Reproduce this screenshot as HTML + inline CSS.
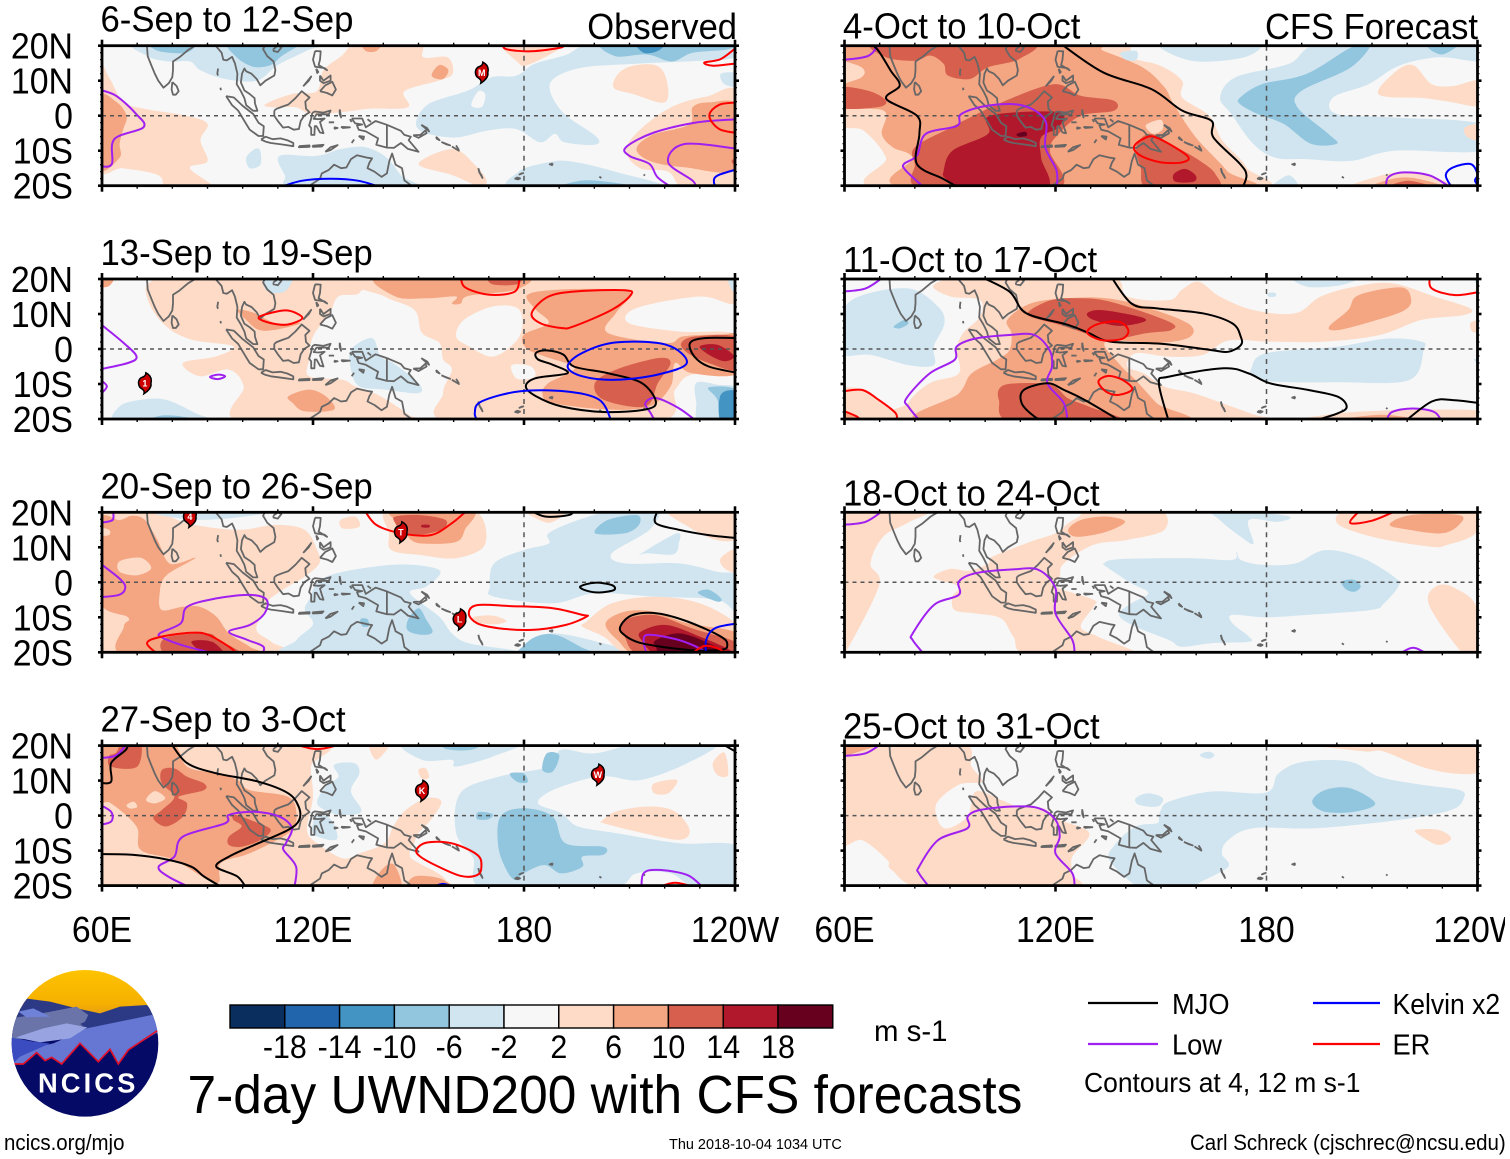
<!DOCTYPE html>
<html lang="en">
<head>
<meta charset="utf-8">
<title>7-day UWND200 with CFS forecasts</title>
<style>
html,body{margin:0;padding:0;background:#fff;}
svg{display:block;}
text{font-family:"Liberation Sans",Arial,sans-serif;fill:#000;}
</style>
</head>
<body>
<svg id="chart" xmlns="http://www.w3.org/2000/svg" width="1510" height="1159" viewBox="0 0 1510 1159">
  <rect x="0" y="0" width="1510" height="1159" fill="#fff"/>
  <g id="panels"></g>

  <g transform="translate(0,960) scale(0.3333)">
    <defs>
      <clipPath id="logoClip"><circle cx="255" cy="250" r="220"/></clipPath>
      <linearGradient id="skyGrad" x1="0" y1="0" x2="0" y2="1"><stop offset="0" stop-color="#ffc400"/><stop offset="0.7" stop-color="#f5b000"/><stop offset="1" stop-color="#e59a18"/></linearGradient>
    </defs>
    <g clip-path="url(#logoClip)">
      <rect x="30" y="25" width="450" height="150" fill="url(#skyGrad)"/>
      <rect x="30" y="170" width="450" height="310" fill="#050a66"/>
      <polygon points="30,170 75,115 150,125 230,145 300,160 360,140 440,135 480,170 480,220 30,240" fill="#2c3a86"/>
      <polygon points="30,175 100,165 230,140 265,165 250,195 200,225 30,240" fill="#6a74a8"/>
      <polygon points="55,155 100,145 150,170 80,172" fill="#6f82d8"/>
      <polygon points="240,192 300,165 440,135 470,165 330,195 270,207" fill="#2c3a86"/>
      <polygon points="30,315 70,270 160,250 260,205 480,160 480,212 385,270 355,312 330,268 295,305 240,250 185,312 155,292 135,302 110,278 70,312" fill="#6577d2"/>
      <polygon points="48,232 130,205 200,190 262,202 210,235 120,247" fill="#98a4e2"/>
      <polygon points="30,232 100,245 150,250 60,290 38,312 30,312" fill="#3a4cc0"/>
      <polyline points="42,312 70,312 110,278 135,302 155,292 185,312 240,250 295,305 330,268 355,312 385,270 472,212" fill="none" stroke="#e0102a" stroke-width="5"/>
    </g>
    <text x="260" y="398" text-anchor="middle" font-size="82" font-weight="bold" textLength="292" style="fill:#fff">NCICS</text>
  </g>

  <g id="colorbar"></g>
  <text transform="translate(874,1041) scale(0.98,1)" font-size="30">m s-1</text>
  <text transform="translate(187.5,1113) scale(0.953,1)" font-size="54">7-day UWND200 with CFS forecasts</text>

  <g>
    <line x1="1088" y1="1003" x2="1158" y2="1003" stroke="#000" stroke-width="2.2"/>
    <text transform="translate(1172,1014) scale(0.94,1)" font-size="29">MJO</text>
    <line x1="1313" y1="1003" x2="1380" y2="1003" stroke="#0000ff" stroke-width="2.2"/>
    <text transform="translate(1392.5,1014) scale(0.915,1)" font-size="29">Kelvin x2</text>
    <line x1="1088" y1="1044" x2="1158" y2="1044" stroke="#a020f0" stroke-width="2.2"/>
    <text transform="translate(1172,1054.5) scale(0.94,1)" font-size="29">Low</text>
    <line x1="1313" y1="1044" x2="1380" y2="1044" stroke="#ff0000" stroke-width="2.2"/>
    <text transform="translate(1392.5,1054.5) scale(0.94,1)" font-size="29">ER</text>
    <text transform="translate(1084,1092) scale(0.945,1)" font-size="28">Contours at 4, 12 m s-1</text>
  </g>

  <text transform="translate(4,1150) scale(0.93,1)" font-size="22">ncics.org/mjo</text>
  <text transform="translate(669,1149) scale(0.965,1)" font-size="15">Thu 2018-10-04 1034 UTC</text>
  <text transform="translate(1190,1150) scale(0.932,1)" font-size="22">Carl Schreck (cjschrec@ncsu.edu)</text>
  <rect x="1505" y="0" width="5" height="1159" fill="#fff"/>
</svg>

<script>
/* ---------- axis and colour scale data ---------- */
const xTickValues = [60, 120, 180, 240];
const xTickLabels = ['60E', '120E', '180', '120W'];
const yTickValues = [20, 10, 0, -10, -20];
const yTickLabels = ['20N', '10N', '0', '10S', '20S'];
const colorLevels = [-18, -14, -10, -6, -2, 2, 6, 10, 14, 18];
const colorBarLabels = ['-18', '-14', '-10', '-6', '-2', '2', '6', '10', '14', '18'];
const colorBarFill = ['#0a2f5f', '#2166ac', '#4393c3', '#92c5de', '#d1e5f0', '#f7f7f7', '#fddbc7', '#f4a582', '#d6604d', '#b2182b', '#67001f'];
const panelTitles = ['6-Sep to 12-Sep', '13-Sep to 19-Sep', '20-Sep to 26-Sep', '27-Sep to 3-Oct', '4-Oct to 10-Oct', '11-Oct to 17-Oct', '18-Oct to 24-Oct', '25-Oct to 31-Oct'];

/* ---------- coastlines, lon/lat pairs ---------- */
const coastlines = [
 [72.7,21,73,17,74,14.5,75,12,76,10,77.5,8,79,9.3,80,11,80.2,13,80.2,15.5,82,16.7,84.5,18.8,86.5,20,88,21.5],
 [80,9.6,81.2,8.5,81.8,7,81,6,80.2,6,79.8,7.5,80,9.6],
 [91.5,21.5,92.3,20,94,18,94.5,16,95.5,15.8,97,16.8,97.8,15,98.5,12,98.3,9,99.5,7,100.5,5,101,3,103,1.4,104.2,1.4,103.5,3.5,103.4,5,102,6.2,100.5,7.2,99.5,9.5,99.8,12,100.5,13.5,101,12.7,102.5,12,104,10.5,105,8.7,106.5,10,109,11.5,109.3,13,108.8,15.5,107,17,105.8,19,106.5,20.5,108,21.5],
 [108.7,19,110,20,111,19.5,110,18.2,108.8,18.5,108.7,19],
 [110,21.5,110.4,20.2,111,21.5],
 [95.3,5.6,97.5,5.2,100,2.8,103,0.5,104.5,-2,106,-3,105.8,-5.8,104.5,-5.8,102,-4,100.5,-1.5,98.7,1.5,97,3,95.3,5.6],
 [105.2,-6.8,106.5,-6,108.5,-6.7,110.8,-6.5,112.7,-7,114.4,-7.8,114.4,-8.7,111,-8.2,108,-7.8,106.5,-7.4,105.2,-6.8],
 [109,1.5,109.7,2,111.3,2.6,113,3.2,115,5,116.8,7,119,5.2,117.8,4,118,2,119,1,117.5,0,116.5,-1.5,116,-3.8,114.5,-4,113,-3.2,111.5,-3.4,110,-1.5,109,0,109,1.5],
 [119.8,0.8,120.5,1.2,123,0.9,125,1.5,124.5,0.4,121,0.4,120.2,-0.9,121.5,-1,123.3,-0.8,122,-1.8,122.5,-3.5,123,-5,122,-4.8,121,-3,120.5,-3,120.4,-5.5,119.5,-5.5,119.5,-3.5,118.9,-2.8,119.5,-0.8,119.8,0.8],
 [120.6,18.5,122.2,18.4,122,16,121.6,14.5,124,13,123.3,13.6,120.6,14,120,16,120.6,18.5],
 [122,7,123.5,8.7,125.5,9.7,126.5,7.5,125.5,5.8,124,6.5,122,7],
 [117.2,8.4,119.5,11.2,118.8,10,117.2,8.4],
 [122,11.5,123,10,125,11.5,125,10,123,9.3,122,10,122,11.5],
 [120.9,13.4,121.5,12.5,121.2,12.2,120.9,13.4],
 [131,-0.8,134,-0.8,135,-3.3,137.8,-1.5,141,-2.6,145,-4.3,146,-5.5,147.8,-6,147.2,-7,150,-10.3,147,-9.5,145,-7.8,143,-9.2,141,-9.1,138,-8.3,138.5,-6.5,135,-4.5,133,-4,132.5,-2.8,134,-2.5,132,-2.2,131,-0.8],
 [141,-2.6,141,-9.1],
 [148.5,-5.6,150.5,-5.5,152,-4.2,152.3,-5,150,-6.3,148.5,-5.6],
 [150.8,-2.6,153,-4.5,152.5,-3.6,150.8,-2.6],
 [113.5,-21.5,116,-20.5,119,-20,122,-18,122.5,-16.5,124.5,-15.5,126,-14,128,-15,129.5,-14.8,130.8,-12.4,132.5,-11.3,135.5,-12,136.8,-12.2,136,-13.5,135.5,-15,137.5,-16,139.5,-17.5,141,-16.5,141.7,-13,142.5,-10.8,143.5,-14,145.3,-15,146,-18.5,148,-20,149,-21.5],
 [123.5,-10.3,125,-9,127,-8.4,125,-9.8,123.5,-10.3],
 [116,-8.7,119,-8.5,119,-8.9,116,-9,116,-8.7],
 [119.8,-8.6,123,-8.3,122.5,-8.8,120,-8.9,119.8,-8.6],
 [127.6,1.8,128,-0.5,127.6,0.5,127.6,1.8],
 [128,-3.2,130.5,-3.3,128.5,-3.5,128,-3.2],
 [126,-3.3,127,-3.5,126.2,-3.7,126,-3.3],
 [124.5,-1.9,126,-1.9],
 [135.5,-1,136.5,-1.8],
 [130.5,-1,131,-1.8],
 [133,-5.8,134.5,-6,134.3,-6.8,133,-5.8],
 [131,-7.8,131.7,-6.8],
 [155,-6,156,-7,155.2,-6.6,155,-6],
 [156.5,-7.5,159,-8.5,158,-8.2,156.5,-7.5],
 [159.5,-8.8,161.5,-10,160.5,-9.4,159.5,-8.8],
 [160.7,-8.5,161.5,-9.8],
 [167,-15,167.3,-16.2,167.9,-17,168.2,-17.8,167.5,-16.5,167,-15],
 [178,-17.6,178.9,-17.9,178.3,-18.2,177.5,-18,178,-17.6],
 [179.5,-16.4,178.7,-16.8,180,-16.3],
 [188.2,-13.6,187.3,-13.9,188,-14.1,188.2,-13.6],
 [93,13.5,92.8,12,93,11.5],
 [93.8,7.3,93.7,8],
 [201.4,-17.4,202,-17.8],
 [214,-16.8,214.4,-17.1]
];

/* ---------- Panel 1: 6-Sep to 12-Sep, observed ---------- */
const p1Shading = [
 {value:-4, pts:[72,21,73,17,79,15.5,85,15.5,88,13,95,10.5,104,10,110,14.5,118,18.5,121,21]},
 {value:-8, pts:[74,21,76,18.5,84,18,86,21]},
 {value:-8, pts:[97,21,98,17,103,14,108,14.5,111,17,116,20,118,21]},
 {value:-4, pts:[149.3,-2.4,152.8,3.3,163.9,7.1,170.8,11,177.7,11.4,183,14.8,191.5,17.2,202.6,21,241,21,240,16.7,230,15.7,211,14.8,197,13.8,189,11,187.4,7.1,191.5,0.5,200.6,-6,200,-8.3,191.5,-7.6,188.8,-5.2,184.6,-7.6,177.7,-3.8,169.4,-4.3,161,-6.2,152.8,-5.2]},
 {value:0, pts:[165,3,167,7,169,6,168,2.5]},
 {value:-8, pts:[204,21,206,17,215,17.5,222,15.5,228,18,238,19,240,21]},
 {value:-12, pts:[212,21,214,18,218,18.5,220,21]},
 {value:-4, pts:[236,12,241,12,241,8.5,237,9]},
 {value:-4, pts:[178,-21,178.5,-16,186,-13.5,193,-13,206,-16,220,-21]},
 {value:-8, pts:[190,-21,197,-18.5,208,-19.5,214,-21]},
 {value:-4, pts:[101,-12,103.5,-9.5,105,-10,105,-14,102,-15]},
 {value:-4, pts:[110.5,-11.5,121,-11.5,128,-9.5,135,-9,141,-12,145,-17,149,-21,115,-21,112,-17]},
 {value:4, pts:[106.4,3.3,114,6.2,121,7,123,13,128,17,133.5,21,150,21,151.4,16.7,158.3,16.7,159.7,12,155.6,10,146,7,147,2.4,136,2,128,1,119.5,0.5,115,2.4,108.5,2.4]},
 {value:8, pts:[153.8,12,156,14.5,158.5,13,157,10.5,154.5,10.8]},
 {value:8, pts:[134,21,135,18.5,138,18.5,139.5,21]},
 {value:4, pts:[174,21,178,15.5,181,14.5,190,19,191,21]},
 {value:4, pts:[59,14,62,11,66,4,72,2,84,0,90,-2.3,88,-7,90,-13,85,-15,92,-21,79,-21,76,-17,66,-15,59,-14.5]},
 {value:8, pts:[59,5,64,4,67,0,66,-4,65,-8,65,-12,59,-15]},
 {value:4, pts:[209,-10,213,-4,222,2.5,232,5.5,241,6,241,-21,226,-21,221,-16,213,-15]},
 {value:8, pts:[212,-9.5,216.5,-5.5,227,-2.5,228,2.5,233,3.8,241,2.5,241,-15,225.5,-14.7,216,-13]},
 {value:12, pts:[239,-13,241,-12,241,-15]},
 {value:4, pts:[206.8,12,211,14.3,217.8,14.3,220.6,10,220,3.8,211,6.2,205.5,8]},
 {value:4, pts:[150,-13.8,159.7,-9.5,166,-14,169.4,-18.6,167,-20,159.7,-17]}
];
const p1Mjo = [];
const p1Low = [
 [59,7.5,64,5.7,69.7,0.5,71.8,-3.3,63.5,-6.7,62.8,-13.8,59.5,-14.5],
 [241,-1,229.4,-1.9,217,-4.8,209,-9,210,-11.5,215.7,-13.8,218,-17.6,222.8,-21],
 [241,-9.5,225.5,-8.1,221,-13.3,228,-18.6,228.8,-21]
];
const p1Kelvin = [
 [109,-21,116.7,-18.6,125,-18,133,-18.6,141,-21],
 [241,-15.2,235,-17.1,234,-19,235,-21]
];
const p1Er = [
 [174,20.5,175,19,182,18.4,190.5,19.5,191,20.5],
 [241,20,236,16.2,231.3,15.2,233.8,14.3,241,15],
 [241,3.8,235.5,3.1,232.7,0,235.5,-3.8,241,-5]
];
const p1Storms = [{name:'M', lon:168, lat:12.3}];

/* ---------- Panel 2: 13-Sep to 19-Sep ---------- */
const p2Shading = [
 {value:4, pts:[73.4,18.9,84.2,21,130.8,21,133.2,16,127.2,15,124.8,10.3,120,3.6,118.9,-3,118.9,-7.8,128.4,-8.8,132,-10.7,139.2,-13.5,147.6,-19,150,-21,99.7,-21,100.3,-10.7,96,-5.9,87.8,-7.8,83,-4,92.5,-2.1,97.3,0.8,85.4,2.7,78.2,6.5,73.4,13.1]},
 {value:4, pts:[133.2,21,241,21,240,13,230,15,212,11.7,209.8,7.4,224,5,240.5,4,240.5,-6.4,227.7,-7.3,223,-11.6,217,-21,159.5,-21,157,-12.6,159.5,-5.9,157,-3,156,1.7,151,4.6,148.8,11.2,140.4,15]},
 {value:0, pts:[160.7,3.6,163,8.4,171.5,12.2,178.7,11.2,178.7,3.6,171.5,-2.1,164.3,0.8]},
 {value:0, pts:[176.5,-4.6,182,-5,183,-8,178,-8.5]},
 {value:8, pts:[139.2,21,179,21,177.8,17,164.3,15.2,162,13,159.5,13,160.7,15,152.3,14.5,143.4,15]},
 {value:12, pts:[170.3,21,171,18.5,178,18.5,179,21]},
 {value:8, pts:[181,15.5,190.6,17,206.2,17,210.4,15.5,206.2,10.3,203.8,4.6,220.5,1.7,225.3,3.6,236,4.1,241,3.6,241,-6.9,227.7,-6.9,223,-4,221.7,-10.7,215.7,-16.4,203.8,-17.3,188.2,-15.4,185.2,-12.6,187,-9.7,191.8,-7.3,194.2,-5,185.8,-2.1,180.5,0.3,180,4.1,187,7.4,183.4,11.2]},
 {value:12, pts:[200.2,-9.7,206.2,-5.9,218.1,-2.6,221.7,-4,218.1,-9.7,214.5,-16.4,202.6,-14.5]},
 {value:12, pts:[224.7,1.7,229,3.6,241,3.1,241,-5.9,232.5,-4,226.5,-1.1]},
 {value:16, pts:[230,0.8,235,1.2,239.7,-2,237,-3.5,232.5,-1.6]},
 {value:8, pts:[98.5,11.2,103.3,10.3,109.3,7.4,116.5,7.4,109.3,5.5,104.5,5.5,100.9,8.4]},
 {value:8, pts:[113,-13.5,118.9,-11.6,123.6,-13.5,126,-17.3,117.6,-17.8,114.2,-15.4]},
 {value:8, pts:[59,21,63.5,21,62,18,59,18]},
 {value:-4, pts:[229,-9.7,235,-10.2,241,-11.6,241,-21,230,-21,229,-15.4]},
 {value:-8, pts:[232.5,-11,241,-12,241,-21,236,-21,235,-14.5]},
 {value:-12, pts:[236,-13,241,-12.6,241,-21,236,-21]},
 {value:-4, pts:[130.8,-0.2,136.8,3.1,139.2,-2.1,142.8,-4,150,-9.7,150,-12.6,140.4,-11.6,133.2,-10.7,130.8,-5.9]},
 {value:-4, pts:[106,21,107,16.5,112,16.5,114,21]},
 {value:-4, pts:[65,-16.4,71,-14.5,78.2,-14.5,86.5,-18.3,91,-21,65,-21]},
 {value:-8, pts:[73,-21,77,-19,84,-19.5,87,-21]},
 {value:-4, pts:[238,21,241,21,241,16,239,17]}
];
const p2Mjo = [
 [183.4,-1.1,186.4,-0.4,191.2,-1.6,194.2,-5,203.8,-6.9,213.4,-9.7,217.5,-15,214.5,-17.3,202.6,-18,190.6,-16.4,183.4,-13.5,180.5,-10.7,183.4,-8.3,192.4,-6.9,188.2,-4.5,184,-3,183.4,-1.1],
 [241,3.1,231.3,3.1,227.2,1.7,228.4,-2.1,232.5,-5,241,-6.9]
];
const p2Low = [
 [60,6.8,66.2,1.7,69.8,-2.1,67.4,-4,59,-5.9],
 [59.5,-8.8,61.4,-10.7,59.5,-13],
 [90.7,-8,93,-7.3,95,-7.8,93,-8.6,90.7,-8],
 [229.5,-21,224,-16.9,217.5,-14,214.5,-15.5,216,-18.3,217.5,-21]
];
const p2Kelvin = [
 [192.4,-5,196.6,-1.1,206.2,1.9,220.5,1.2,226.3,-4,218,-7.3,206.2,-8.8,196.6,-7.8,192.4,-5],
 [167,-21,166,-18.3,167.9,-15,178.7,-12.1,191.8,-12.1,201.4,-14.5,205,-21]
];
const p2Er = [
 [162,21,163.3,17.6,170.3,15.5,177.5,16.5,178.7,21],
 [182.2,10.3,187,15,195.4,16.5,208.6,16.8,210.4,15.5,205,11.2,194.2,6.5,190.6,6,184.6,7.4,182.2,10.3],
 [104.5,8.9,108,10.3,112.9,11,117,8.9,112.9,7,108,7.4,104.5,8.9]
];
const p2Storms = [{name:'1', lon:72.2, lat:-9.8}];

/* ---------- Panel 3: 20-Sep to 26-Sep ---------- */
const p3Shading = [
 {value:4, pts:[58,21,73.4,21,84.2,16.9,98.5,15,109.3,16.4,117.6,15,121.2,9.2,121.8,5.4,117.6,1.6,112.9,-1.2,107.5,-5,106.3,-7.9,103.9,-13.6,108.1,-17,111.1,-21,58,-21]},
 {value:-4, pts:[73,21,84,18,98,18.5,110,21]},
 {value:8, pts:[59,17.5,65,17.8,68.6,19,72.2,17.8,75.8,12,79.4,5.3,86.6,7,78.2,1.9,76.4,-3.1,77,-7.9,83,-7,87.8,-7,92.5,-9.8,96.1,-14.6,102,-18.4,104.5,-21,66.8,-21,66.2,-12.7,67.4,-10,59,-5]},
 {value:4, pts:[65,6,71,7,74,4,70,2,65,3]},
 {value:4, pts:[59,15.5,62,15,62,13.5,59,13.5]},
 {value:12, pts:[77.8,-16,89.7,-14.6,93.3,-16.5,99.3,-21,79.4,-21]},
 {value:16, pts:[85.4,-17,91.3,-17,95,-21,90,-21]},
 {value:4, pts:[141.6,14,141.6,21,165,21,169,11,160.8,6.9,150.5,7.8,142.3,9.2]},
 {value:4, pts:[127.8,17.8,132,18.8,133.2,15.9,128.4,15.4]},
 {value:8, pts:[142.3,21,165,21,163.2,15,160.8,11.6,152.3,11,148,12,145.6,15.9]},
 {value:12, pts:[143.4,18.8,150.5,19.2,157.7,17.8,156.5,15,149.3,13.5,145.1,15,143.4,16.9]},
 {value:16, pts:[151,16.4,153,16.4,153,15.7,151,15.7]},
 {value:4, pts:[180,21,192,21,187,17]},
 {value:-4, pts:[170.3,-1.2,171.5,5.4,179.9,9.2,187,11.1,187,14,195.4,17.8,207.4,21,218.1,21,215.7,15,205,8.3,208.6,5.4,224.1,5.4,234.9,3,241,1.6,241,-8.9,234.9,-5,216.9,-4.1,200.2,-3.1,188.2,-6,171.5,-4.1]},
 {value:-4, pts:[213,8,223.5,14,224,11,222.5,8,215,8.3]},
 {value:4, pts:[221,21,241,21,241,13,235,12,226.5,16]},
 {value:4, pts:[236,7,241,9.6,241,3,237,4]},
 {value:-8, pts:[200.2,14,203.8,17.8,212.1,19.2,212.7,16.4,208.6,14]},
 {value:-8, pts:[229.5,-3.1,232.5,-2.1,236,-4.5,235,-5.5]},
 {value:-4, pts:[118.9,-5,123.6,1.6,142.8,5,155.9,3.5,152.3,-1.2,147.6,-3.1,155.9,-9.8,159.5,-14.6,164.3,-17.4,176.3,-19.3,180,-21,115,-21,115.3,-16.5,120,-12,117.7,-8]},
 {value:-4, pts:[180,-21,182.6,-16.5,188.2,-14.6,199,-16.5,212,-21]},
 {value:-8, pts:[179,-19,183.4,-15.5,189,-15,196,-18.4,200,-21,179,-21]},
 {value:-8, pts:[147,-10.8,150,-7.4,152.3,-10.8,154,-14.2,151,-15,147,-13.8]},
 {value:-8, pts:[133.5,-10.5,135.5,-10.5,135.8,-12.5,134,-12.5]},
 {value:4, pts:[197.8,-11.2,205,-6,216.9,-4.1,230,-6,241,-12.7,241,-21,212,-21,202.6,-15.5,196.6,-12.7]},
 {value:4, pts:[165.5,-10,171,-9.5,175,-11,172,-12,167,-11.5]},
 {value:8, pts:[203.2,-11.7,208.6,-8.4,216.9,-8.4,226.5,-11.7,241,-14.6,241,-21,214,-21,206.6,-16.5]},
 {value:12, pts:[208,-11.2,216.9,-9.3,227.7,-13.1,241,-17.4,241,-21,214.5,-21,208.6,-15.5]},
 {value:16, pts:[213.4,-14,220.5,-12.2,230,-15.5,238.5,-19.3,239,-21,219.3,-21,213.4,-16.5]},
 {value:20, pts:[217.5,-16.5,224.1,-14.6,232.5,-17.4,237.3,-21,220.5,-21,217.5,-18.4]}
];
const p3Mjo = [
 [181,21,186,18.8,193,19.3,194,21],
 [218,20.5,217.5,16.9,224.1,15,232.5,13.5,241,12.6],
 [196,-1.2,200.2,-0.1,205,-0.8,205.6,-2.2,201.4,-2.9,197.8,-2.4,196,-1.2],
 [207.6,-12.2,211,-9.3,218.1,-8.9,226.5,-11.2,236,-15.5,237.8,-17.9,236,-19.3,226.5,-19.3,213.4,-17.4,208,-14.6,207.6,-12.2]
];
const p3Low = [
 [60,5,65.4,0.7,66.6,-1.7,64.8,-3.6,59,-4.3],
 [59,17,63,17.8,63,21],
 [95,-21,84.2,-18.4,77.6,-16,76.4,-14.6,82.4,-11.7,84.2,-7,92.5,-4.6,102,-3.6,106.8,-5,106.2,-8.9,102,-12.2,96.1,-14.1,101.5,-16.5,105.9,-18.4,105.4,-21],
 [215,-21,214,-16.5,215.7,-15,224.1,-16.5,230.7,-19.3,231.5,-21]
];
const p3Kelvin = [
 [241,-11.7,234.3,-13.1,231.8,-16.5,231.8,-21]
];
const p3Er = [
 [134.4,21,138,16.4,145.1,14,153.5,13.5,159.5,16.9,164.3,21],
 [164.3,-8.9,166.7,-6.5,176.3,-6.8,188.2,-7.4,196.6,-9.3,197.8,-9.8,191.8,-12.2,182.2,-13.6,172.7,-13.1,166.7,-11.7,164.3,-8.9],
 [76.4,-21,72.8,-17.4,77,-15.5,85.4,-14.4,90.2,-15,96.1,-18.4,99.1,-21],
 [227,-21,231.3,-18.2,236,-19.3,237,-21]
];
const p3Storms = [{name:'4', lon:85, lat:18.7}, {name:'T', lon:145, lat:14.3}, {name:'L', lon:161.7, lat:-10.6}];

/* ---------- Panel 4: 27-Sep to 3-Oct ---------- */
const p4Shading = [
 {value:-4, pts:[160.7,-5,161.9,6.4,172.7,11.1,187,14,190.6,18.8,200.2,17.8,214.5,21,234.9,21,226.5,15,213.4,10.2,205,11.1,200.2,11.1,188.2,7.3,184,3.5,190.6,0.7,195.4,-3.1,206.2,-5,224.1,-7.9,241,-8.9,241,-21,229,-21,221.7,-16.5,212,-16.5,203.8,-21,169.1,-21,165.5,-12]},
 {value:-4, pts:[146.4,21,178,21,171.5,17,160.7,14,159.5,15.9,151.1,15.9]},
 {value:-8, pts:[157,21,168,21,165,18.8,158,19]},
 {value:-4, pts:[126,14.5,131.7,15,133.2,12.1,130.8,7,133.8,1.6,130.8,0.2,125.4,0.7,121.2,3.5,123.6,8.3,127.2,11.1]},
 {value:-4, pts:[121,0,125,-1,127,-6,125,-7,120,-5]},
 {value:-8, pts:[173.3,-0.3,179.9,2.1,188.2,-0.3,191.8,-7.9,202.6,-8.9,202.6,-11.2,196.6,-11.7,196.6,-14.6,190.6,-16.5,185.8,-14.1,179.9,-16.5,177.5,-18.4,175,-15.5,172.7,-8.9]},
 {value:-8, pts:[167,1,171,0.5,170,-1,166.7,-1]},
 {value:-8, pts:[186.5,17.8,190,17.3,188.2,12.6,185.2,13.1]},
 {value:-8, pts:[176,12,180,12,181,9.5,178,9.7]},
 {value:4, pts:[202,-1.7,206.2,1.2,215.7,2.6,222.9,1.2,227.1,-4.1,224.1,-6.9,212.1,-4.6,202.6,-2.2]},
 {value:4, pts:[217,9.2,223.5,10.2,221.1,6.4,217,6.4]},
 {value:4, pts:[233.7,15,237,18,238,11.6,235,11.6]},
 {value:4, pts:[136,21,142,21,138,16]},
 {value:4, pts:[150,13,152,13.5,153,11,151,10.5]},
 {value:4, pts:[58,21,121.2,21,119.4,14,120,5.4,118.3,-4.1,121.2,-7.9,128.4,-12.2,133.2,-10.8,140.4,-7.9,142.8,-3.1,146.4,1.6,152.3,5,156.5,4,153.5,-1.2,150,-5,148.8,-7.9,147.6,-11.7,152.3,-21,58,-21]},
 {value:8, pts:[59,16.9,63.8,21,79.4,21,84.2,14,92.5,12.1,98.5,10.2,102,7.3,112.9,5.4,115.3,0.7,114,-4.1,108,-7.9,100.9,-11.2,93.7,-13.6,92.5,-19.3,80.6,-12.7,71,-9.8,69.8,-3.1,62.6,3.5,59,4.5]},
 {value:8, pts:[137,-21,139.5,-15.5,143,-14,145,-21]},
 {value:8, pts:[148.8,-17.4,156,-17.9,159.5,-21,147.6,-21]},
 {value:4, pts:[72.5,4.5,75,7,78,5,75,3.5]},
 {value:4, pts:[67,3,69,4,70,2.5,68,2]},
 {value:12, pts:[62.5,14,62,17,64,18,66,21,71,21,70,14]},
 {value:12, pts:[77,13,80.6,13.5,84.2,11.1,89,9.2,89,7.3,81.8,5.4,84.2,3.5,83,-0.3,78.2,-3.1,74.6,-0.8,77,1.6,80.6,5.4,77,9.2]},
 {value:12, pts:[97.9,0.2,104.5,-2.2,108,-4.1,105,-7,99.7,-8.9,96.1,-8.4,96.1,-6,99.7,-3.1,97.3,-1.2]}
];
const p4Mjo = [
 [79.4,21,84.2,15,92.5,12.1,104.5,9.7,112.9,6.4,115.9,2.6,116.1,-1.2,112.9,-4.1,103.3,-8.4,96.1,-11.7,92.5,-14.6,98.5,-17.4,101.2,-21],
 [59,-11,68.6,-11.2,78.2,-12.5,85.4,-14.6,89,-17.4,95,-21],
 [59,9.4,62.6,9.7,62.6,15,66.8,18.8,67.4,21],
 [235.5,21,241,17.8]
];
const p4Low = [
 [67.4,21,64,17.2,59,16.4],
 [59,3.3,62.6,1.1,62.6,-1.7,59,-2.7],
 [86,-21,78.8,-17.4,76.1,-14.6,80.6,-11.7,83,-6,95,-2.2,96.1,0.2,103.3,1.1,110.5,-0.3,114,-3.6,112.3,-7.9,111.6,-9.8,115.2,-14.6,114.6,-21],
 [213.4,-21,214,-16.5,218.1,-15.5,226.5,-17,231.3,-21]
];
const p4Kelvin = [
 [153,-21,157,-19.5,161,-21]
];
const p4Er = [
 [113,21,121.2,19,130,21],
 [149.4,-9.8,152.3,-7.7,159.5,-7.9,166.7,-11.2,167.9,-14.6,166.7,-17,161.9,-17.2,154.7,-14.1,150.5,-11.7,149.4,-9.8],
 [217,-21,223,-19.2,230,-21]
];
const p4Storms = [{name:'K', lon:151, lat:7.1}, {name:'W', lon:201, lat:11.7}];

/* ---------- Panel 5: 4-Oct to 10-Oct, CFS forecast ---------- */
const p5Shading = [
 {value:4, pts:[58,21.4,133.5,21.4,141,16.7,149.8,14.3,156,10,156,5.2,163.7,0,167.4,-7,174.3,-14.8,173.7,-21.4,73,-21.4,71.8,-12,65.5,-4.3,58,-1]},
 {value:8, pts:[58,21,58,16.7,64.9,13.8,64.9,11,58,8,58,2.4,71.2,1.4,70.6,-5.2,73.7,-9,79.4,-12,79.4,-21,171.2,-21,168.7,-15.7,159.9,-6.2,153.6,3.3,151,8.1,144.8,13.8,133.5,18.6,128,21]},
 {value:12, pts:[70,21,71.8,16.7,80,15.7,84.4,17.2,88.2,14.8,89.4,11.5,95.7,10.5,100.8,13.8,109.7,16.2,112,21]},
 {value:12, pts:[80,-9,89.4,-3.8,95.7,-0.5,105.8,4.3,119.6,9,127.2,5.7,136.6,4.3,136.6,1.4,127.2,0,120.9,-5.2,118.4,-10,120.3,-21,82.5,-21,80,-13.8]},
 {value:12, pts:[142.9,-9,146.7,-5.2,153.6,-8.6,161.1,-12.9,165.5,-16.7,165.5,-21,146.7,-21,144.2,-14.8]},
 {value:12, pts:[58,8,66.8,7.1,71.8,4.3,69.3,2.4,58,2.4]},
 {value:16, pts:[88.2,-15.7,90.7,-10,100.8,-5.2,101.4,0,120.9,1,120.9,-3.3,115.9,-6.2,115.9,-12,117.1,-21,94.8,-21,88.8,-18]},
 {value:16, pts:[153.6,-16.7,156.8,-15.2,159.9,-17.1,159.2,-18.9,154.2,-18.9]},
 {value:20, pts:[109,-5.2,111.4,-4.6,111.8,-5.7,109.6,-6]},
 {value:4, pts:[146,-2.4,150,-1.2,150.5,-3.8,148,-5.2,146,-3.8]},
 {value:-4, pts:[166.8,5.2,171.2,11,186.3,14.8,197.6,21,241,21,241,15.7,229,16.7,217.7,14.3,209,9,198.9,5.2,200,0.5,216.5,-0.5,241,-2.4,241,-10,216.5,-10,204,-12.9,191.3,-12.4,182.5,-12,176.2,-8,170,0.5]},
 {value:-8, pts:[172.5,5.2,178.7,9,191.3,11.9,204,19.5,210,21,204,13.8,190,7.1,188.8,2.4,197.6,-5.2,200,-8,192.6,-8,185,-2.4,177.5,0.5,172.5,3.3]},
 {value:-8, pts:[226,20,235,21,230,17.5]},
 {value:-4, pts:[138.5,18,143,18.5,143,16,140,16]},
 {value:-4, pts:[149.8,21,158.6,15.7,173.7,16.7,176.9,21]},
 {value:-4, pts:[181,-21,186.3,-17,189,-21]},
 {value:4, pts:[212,6,216,12,221.6,14.5,227,9,233,8.5,241,10,241,3,232,4,225,5]},
 {value:4, pts:[236.5,-3.3,241,-2.5,241,-7,237,-6]},
 {value:4, pts:[204,-21,212.8,-17,221.5,-16,229,-18,232.8,-21]},
 {value:8, pts:[209.6,-21,216,-18,223,-18,231,-21]},
 {value:12, pts:[214,-21,220.3,-18.6,228,-21]}
];
const p5Mjo = [
 [66.2,21,69.3,19,73.1,12.9,75.7,8.6,71.9,4.8,80.6,0,81.3,-5.2,80.6,-13.8,88.2,-18.1,93.2,-21],
 [120.9,21,133.5,12.4,147.3,7.6,156.1,1.4,164.3,-1.4,164.9,-6.2,172.5,-13.8,174.3,-17.1,173,-21]
];
const p5Low = [
 [59,15.9,66.8,17.1,70,21],
 [83.1,-21,77.5,-15.7,76.9,-13.8,80.6,-11.4,83.1,-5.2,92,-2.9,93.2,0.5,100.8,2.9,110.8,2.9,117.1,-1.4,117.1,-9,120.3,-15.7,120.3,-21],
 [214,-21,214.6,-17.6,219,-16.2,226.5,-17.1,233,-21]
];
const p5Kelvin = [
 [233,-21,231,-17.1,233,-14.8,238,-13.8,240,-16.7,239.3,-18.6,241,-21]
];
const p5Er = [
 [142.3,-9,144.8,-6.7,148.6,-6.2,157.4,-11.4,156.1,-13.3,149.8,-13.3,144.2,-11.4,142.3,-9]
];
const p5Storms = [];

/* ---------- Panel 6: 11-Oct to 17-Oct ---------- */
const p6Shading = [
 {value:-4, pts:[59,9.2,63.8,14.9,78.2,17.3,86.6,12.1,88.4,7.3,85.4,0.7,85.4,-4.6,78.2,-4.6,67.4,-1.7,59,-1.2]},
 {value:-8, pts:[74,6.4,77,8.3,78.2,7.3,75.8,5.9]},
 {value:4, pts:[85.4,18.3,97.3,21,134.4,21,140.4,15,152.3,14,155.9,16.9,160.7,19.2,166.7,15,176.3,11.1,188.2,10.2,195.4,15,205,17.8,215.7,18.8,227.7,15,237.9,11.6,236.1,9.7,224.1,8.3,212.2,4,196.6,2.1,181,2.1,169.1,2.4,161.9,-1.7,152.3,-2.2,142.8,-1.2,140.4,-5,145.2,-7,151.1,-10.8,159.5,-12.7,170.3,-16.5,178.7,-19.3,191.8,-21,77.6,-21,78,-15.5,84.2,-9.8,92.5,-7,91.9,-0.3,93.7,4.5,98.5,9.2,98.5,14,90.1,15]},
 {value:4, pts:[190,-21,205,-18,240,-17.5,241,-21]},
 {value:8, pts:[200,-21,212,-18.8,225,-20,241,-20,241,-21]},
 {value:4, pts:[238,7.5,241,8,241,5,238.5,5]},
 {value:4, pts:[59,-12.2,65,-11.7,75,-18.4,76,-21,59,-21]},
 {value:8, pts:[59,-17.4,66,-21,59,-21]},
 {value:8, pts:[82.4,-21,92.5,-12.7,96.1,-7,103.3,-3.1,106.9,-0.3,107.5,4.5,106.3,8.3,112.9,13,123.6,14.5,134.4,14.5,145.2,12.1,157.7,7.3,158.3,3.5,150,1.8,134.4,2.1,138,-4.1,142.8,-8.9,148.8,-15.5,154.7,-21]},
 {value:8, pts:[197.8,6.4,203.2,11.1,206.2,15.4,218.1,17.6,221.1,14.5,219.3,11.1,209.7,7.8,200.2,5.4]},
 {value:12, pts:[112.9,11.1,118.9,14,126,14.5,135.6,13.5,152.3,7.8,152.9,5.4,145.7,4.5,134.4,2.4,128.4,4.5,121.2,6.9,112.9,9.2]},
 {value:16, pts:[129,10.2,133.2,11.1,144,9.2,145.2,7.8,138,6.6,130.8,8.3]},
 {value:12, pts:[103.9,-14.6,104.5,-10.8,109.3,-9.8,118.9,-10.3,123.6,-14.1,129.6,-16.5,139.2,-21,108,-21]},
 {value:-4, pts:[175.7,-5.5,179.9,-1.2,200.2,0.7,214.5,3,224.1,2.1,224.7,-0.3,220.5,-8.9,200.2,-9.5,182.2,-9.3,176.3,-7.9]},
 {value:-4, pts:[188,21,206,21,201.5,18.3,191.5,17.8]},
 {value:-4, pts:[238.5,21,241,17,241,21]},
 {value:-4, pts:[180.5,16,182.5,16,182.5,15,180.5,15]},
 {value:-4, pts:[239,-3,241,-3,241,-5]}
];
const p6Mjo = [
 [97.9,21,106.9,16.4,111.7,10.2,123.6,6.9,129.6,4.5,135.6,2.1,150,1.5,164.3,-0.3,169.1,-0.8,172.7,1.1,172.7,3.5,170.3,7.3,161.9,10.2,148.8,11.6,141.6,13,135.6,21],
 [152.3,-21,149.4,-9.8,152.3,-7.9,167.9,-5.5,175,-7,181,-9.8,191.8,-11.7,200.2,-13.6,202.8,-16.5,200.2,-18.4,191.8,-21],
 [139.2,-21,128.4,-14.6,122.4,-11.7,117.7,-9.8,111,-11.7,110.4,-15.5,114,-19.3,117.7,-21],
 [219,-21,227,-15,233,-14.6,241,-15.5]
];
const p6Low = [
 [59,16.4,66,17.3,71.6,21],
 [81.8,-21,78.2,-16.5,77.6,-14.1,84.2,-7,91.3,-3.1,91.9,0.7,97.3,3,106.9,4,114,4,118.3,-0.3,119,-5,117.7,-9.8,122.4,-15.5,123.4,-21],
 [213.9,-21,215.7,-18,221.7,-17,227.7,-18,230,-21]
];
const p6Kelvin = [];
const p6Er = [
 [226.5,21,227,17.3,233.7,15.4,241,16.4],
 [129,5,132,7.1,138,7.8,140.7,5.4,139.2,3,134.4,2.4,130.8,3.3,129,5],
 [132.2,-9.3,135,-7.7,139.2,-8.9,141.8,-11.5,138,-13.1,134.4,-12.2,132.2,-9.3],
 [59,-12.2,65,-11.7,69.8,-14.6,74.6,-18.4,74.6,-21],
 [59,-17.4,63.5,-19.3,65,-21]
];
const p6Storms = [];

/* ---------- Panel 7: 18-Oct to 24-Oct ---------- */
const p7Shading = [
 {value:4, pts:[58,21,84,21,78,17,71,13,67.4,5.3,69.8,-1,60,-20.5,58,-21]},
 {value:4, pts:[85.4,1.4,90,3.8,95.5,3.3,101,5.4,102,7.3,112.9,11.6,120,14,123.6,16.9,127.2,19.2,127.2,21,148.8,21,151,15,140.4,12.1,130.8,10.7,122.4,5.4,121.2,1.6,120,-1.2,130.8,-5,130.8,-7,127.2,-12.7,132,-15.5,142.8,-21,112.9,-21,108,-15.5,104.5,-10.3,97.3,-8.9,91.3,-7.9,90.7,-4.1,92.5,-1.2]},
 {value:8, pts:[123.6,15,127.2,17.8,134.4,18.8,139.8,17.3,134.4,14.4,126,13]},
 {value:4, pts:[200,17,206,21,241,21,239.5,14,231.5,10.7,226.5,10.2,210,13]},
 {value:8, pts:[215,16.5,221,19.2,234.8,19.2,234.8,16.5,230,14,220.5,15]},
 {value:4, pts:[225.9,-4.1,229,-0.8,233.7,-1.7,239.7,-7,241,-21,236.5,-21,228,-9.8]},
 {value:-4, pts:[133.8,5.4,138,6.6,158.3,6.9,170.3,6.4,171.5,8.8,172.7,6.4,178.7,5,188.2,5.4,196.6,9.2,207.4,6.9,216.9,1.1,217.5,-1.2,213.4,-6,209.8,-7.9,191.8,-9.3,179.9,-10,170.3,-9.3,170.3,-11.7,175,-15.5,175,-17,164.3,-17.4,155.9,-18.4,152.3,-16.5,142.8,-12.7,138,-9.3,141.6,-6,146.4,-3.1,141.6,-0.3,134.4,4.5]},
 {value:-4, pts:[164.8,21,185.7,19,183.3,17.3,175,17.8,176.3,11.1,172.7,13,166.7,17.8]},
 {value:-8, pts:[201.4,0.2,205,0.7,206.8,-1.2,205,-2.7,202.6,-2]}
];
const p7Mjo = [];
const p7Low = [
 [59,16.4,66,17.3,71.6,21],
 [83,-21,79.4,-16.5,79.4,-14.6,85.4,-6.5,92.5,-3.6,92.5,0.2,97.3,2.6,108,3.7,115.3,3.5,120,-1.7,120,-8.9,124.8,-16.5,125.4,-21],
 [217,-21,221.7,-18.7,226.5,-21]
];
const p7Kelvin = [];
const p7Er = [
 [207,21,203.8,17,210,17.6,217,20.5]
];
const p7Storms = [];

/* ---------- Panel 8: 25-Oct to 31-Oct ---------- */
const p8Shading = [
 {value:4, pts:[58,21,92.5,21,96.1,14,99.1,9.7,92.5,8.8,86,3,88.3,-3.6,94.9,-0.3,97.3,6.9,104.5,4.5,109.3,2.6,116.5,2.1,121.2,-1.2,129.6,-5,124.8,-11.7,124.8,-16.5,124.8,-21,84.2,-21,73.4,-15.5,72.2,-12.7,65,-7,58,-7]},
 {value:8, pts:[59,17,70,20,80,21,59,21]},
 {value:-4, pts:[150,1.6,152.3,4,164.3,6.9,179.9,6.6,183.4,12.1,190.6,15.4,203.8,15.4,212.1,11.1,224.1,8.8,234.9,7.3,236.1,5,232.5,1.6,218.1,-1.2,194.2,-3.6,176.3,-3.6,169.1,-7,167.3,-10.8,169.1,-14.6,160.7,-19.3,159.5,-21,145.2,-21,135.6,-13.1,136.8,-8.4,142.8,-3.1,148.8,-2.2,149.4,-0.3]},
 {value:-4, pts:[142.8,5,146.4,6.4,150.5,5,149,2.6,143.7,3.1]},
 {value:-4, pts:[161,17.3,163.5,18.3,165.2,17.3,163.5,16.2]},
 {value:-8, pts:[193,4,196.6,7.3,203.8,7.8,210.9,3.5,205,1.1,196.6,1.1]},
 {value:4, pts:[187,21,200,19.2,208.6,18.3,213.4,18.3,224,14,233.7,12,241,13,241,21]},
 {value:4, pts:[222.4,-4.1,229,-4.1,232.5,-6.5,229,-8.4,224.1,-6]}
];
const p8Mjo = [];
const p8Low = [
 [59,17,66,17.8,71,21],
 [84.6,-21,81.2,-16.5,81.2,-14.6,86.6,-7,95,-3.6,95,-0.3,98.5,1.6,108,2.6,115.3,2.1,120,-1.2,121.2,-6,120,-10.8,124.8,-16.5,125.4,-21]
];
const p8Kelvin = [];
const p8Er = [];
const p8Storms = [];

/* ---------- panel list ---------- */
const panelShading = [p1Shading, p2Shading, p3Shading, p4Shading, p5Shading, p6Shading, p7Shading, p8Shading];
const panelMjo = [p1Mjo, p2Mjo, p3Mjo, p4Mjo, p5Mjo, p6Mjo, p7Mjo, p8Mjo];
const panelLow = [p1Low, p2Low, p3Low, p4Low, p5Low, p6Low, p7Low, p8Low];
const panelKelvin = [p1Kelvin, p2Kelvin, p3Kelvin, p4Kelvin, p5Kelvin, p6Kelvin, p7Kelvin, p8Kelvin];
const panelEr = [p1Er, p2Er, p3Er, p4Er, p5Er, p6Er, p7Er, p8Er];
const panelStorms = [p1Storms, p2Storms, p3Storms, p4Storms, p5Storms, p6Storms, p7Storms, p8Storms];

/* ---------- drawing ---------- */
const NS = 'http://www.w3.org/2000/svg';
const panelWidth = 633, panelHeight = 140, columnGap = 742.5, rowGap = 233.3, firstLeft = 102, firstTop = 45.7;

function make(tag, attrs, parent, txt) {
  const el = document.createElementNS(NS, tag);
  for (const k in attrs) el.setAttribute(k, attrs[k]);
  if (txt !== undefined) el.textContent = txt;
  parent.appendChild(el);
  return el;
}
function lonScale(left) { return lon => left + (lon - 60) / 180 * panelWidth; }
function latScale(top) { return lat => top + (20 - lat) / 40 * panelHeight; }
function colorFor(v) {
  let i = 0;
  while (i < colorLevels.length && v >= colorLevels[i]) i++;
  return colorBarFill[i];
}
function toPoints(flat, sx, sy) {
  const out = [];
  for (let i = 0; i + 1 < flat.length; i += 2) out.push([sx(flat[i]), sy(flat[i + 1])]);
  return out;
}
function smoothPath(P, closed) {
  const n = P.length;
  const at = i => closed ? P[(i + n) % n] : P[Math.max(0, Math.min(n - 1, i))];
  let d = 'M' + P[0][0].toFixed(1) + ' ' + P[0][1].toFixed(1);
  const segs = closed ? n : n - 1;
  for (let i = 0; i < segs; i++) {
    const a = at(i - 1), b = at(i), c = at(i + 1), e = at(i + 2);
    d += 'C' + (b[0] + (c[0] - a[0]) / 6).toFixed(1) + ' ' + (b[1] + (c[1] - a[1]) / 6).toFixed(1) + ' ' +
         (c[0] - (e[0] - b[0]) / 6).toFixed(1) + ' ' + (c[1] - (e[1] - b[1]) / 6).toFixed(1) + ' ' +
         c[0].toFixed(1) + ' ' + c[1].toFixed(1);
  }
  return d + (closed ? 'Z' : '');
}
function contourPath(flat, sx, sy) {
  const closed = flat.length > 4 && flat[0] === flat[flat.length - 2] && flat[1] === flat[flat.length - 1];
  const pts = toPoints(closed ? flat.slice(0, -2) : flat, sx, sy);
  return smoothPath(pts, closed);
}
function drawContours(list, color, label, parent, sx, sy) {
  list.forEach(flat => {
    const el = make('path', {d: contourPath(flat, sx, sy), fill: 'none', stroke: color, 'stroke-width': 2, 'stroke-linejoin': 'round'}, parent);
    
    
  });
}

const panelsRoot = document.getElementById('panels');
const defsEl = make('defs', {}, panelsRoot);

panelTitles.forEach((title, idx) => {
  const col = idx < 4 ? 0 : 1;
  const row = idx % 4;
  const left = firstLeft + col * columnGap;
  const top = firstTop + row * rowGap;
  const sx = lonScale(left), sy = latScale(top);
  const right = sx(240), bottom = sy(-20);

  const g = make('g', {}, panelsRoot);
  
  

  const clip = make('clipPath', {id: 'clip' + idx}, defsEl);
  make('rect', {x: left, y: top, width: panelWidth, height: panelHeight}, clip);

  const plot = make('g', {'clip-path': 'url(#clip' + idx + ')'}, g);
  const bg = make('rect', {x: left, y: top, width: panelWidth, height: panelHeight, fill: colorFor(0)}, plot);
  
  

  panelShading[idx].forEach(region => {
    const el = make('path', {d: smoothPath(toPoints(region.pts, sx, sy), true), fill: colorFor(region.value)}, plot);
    
    
  });

  coastlines.forEach(line => {
    const pts = toPoints(line, sx, sy).map(p => p[0].toFixed(1) + ',' + p[1].toFixed(1)).join(' ');
    const el = make('polyline', {points: pts, fill: 'none', stroke: '#666', 'stroke-width': 1.8, 'stroke-linejoin': 'round'}, plot);
    
    
  });

  const eq = make('line', {x1: left, x2: right, y1: sy(0), y2: sy(0), stroke: '#555', 'stroke-width': 1.5, 'stroke-dasharray': '4 4'}, plot);
  
  
  const dl = make('line', {x1: sx(180), x2: sx(180), y1: top, y2: bottom, stroke: '#555', 'stroke-width': 1.5, 'stroke-dasharray': '5 5'}, plot);
  
  

  drawContours(panelLow[idx], '#a020f0', 'low-frequency-contour', plot, sx, sy);
  drawContours(panelMjo[idx], '#000', 'mjo-contour', plot, sx, sy);
  drawContours(panelKelvin[idx], '#0000ff', 'kelvin-contour', plot, sx, sy);
  drawContours(panelEr[idx], '#ff0000', 'er-contour', plot, sx, sy);

  panelStorms[idx].forEach(s => {
    const sg = make('g', {transform: 'translate(' + sx(s.lon).toFixed(1) + ',' + sy(s.lat).toFixed(1) + ')'}, plot);
    
    
    make('path', {d: 'M1,-10.5C6,-8 7,-4 6,0C7,4 3,8 -1,10.5C0,7 -2,6.5 -5,4C-7,1 -7,-3 -4,-5.5C-1,-6.5 1,-7.5 1,-10.5Z', fill: '#cc0000', stroke: '#000', 'stroke-width': 1.5}, sg);
    const lab = make('text', {x: 0, y: 3.2, 'text-anchor': 'middle', 'font-size': 9, 'font-weight': 'bold', style: 'fill:#fff'}, sg, s.name);
    
    
  });

  const frame = make('rect', {x: left, y: top, width: panelWidth, height: panelHeight, fill: 'none', stroke: '#000', 'stroke-width': 2.8}, g);
  
  

  /* longitude ticks, top and bottom */
  for (let lon = 60; lon <= 240; lon += 10) {
    const major = xTickValues.includes(lon);
    const len = major ? 6 : 3;
    const wid = major ? 2.6 : 1.4;
    [[top, top - len], [bottom, bottom + len]].forEach(t => {
      const el = make('line', {x1: sx(lon), x2: sx(lon), y1: t[0], y2: t[1], stroke: '#000', 'stroke-width': wid}, g);
      
      
    });
  }
  /* latitude ticks, left and right */
  for (let lat = -20; lat <= 20; lat += 2) {
    const major = yTickValues.includes(lat);
    const len = major ? 4 : 2;
    const wid = major ? 2.6 : 1.2;
    [[left, left - len], [right, right + len]].forEach(t => {
      const el = make('line', {x1: t[0], x2: t[1], y1: sy(lat), y2: sy(lat), stroke: '#000', 'stroke-width': wid}, g);
      
      
    });
  }

  /* y axis labels, left column only */
  if (col === 0) {
    yTickValues.forEach((v, i) => {
      const el = make('text', {transform: 'translate(' + (left - 29) + ',' + (sy(v) + 13).toFixed(1) + ') scale(0.94,1)', 'text-anchor': 'end', 'font-size': 36}, g, yTickLabels[i]);
      
      
    });
  }
  /* x axis labels, bottom row only */
  if (row === 3) {
    xTickValues.forEach((v, i) => {
      const el = make('text', {transform: 'translate(' + sx(v).toFixed(1) + ',942) scale(0.94,1)', 'text-anchor': 'middle', 'font-size': 36}, g, xTickLabels[i]);
      
      
    });
  }
  /* panel date title */
  const baseline = col === 0 ? top - 14 : top - 7;
  const tx = make('text', {transform: 'translate(' + (left - 1.5) + ',' + baseline.toFixed(1) + ') scale(0.965,1)', 'font-size': 36}, g, title);
  
  
});

const obs = make('text', {transform: 'translate(737,39) scale(0.96,1)', 'text-anchor': 'end', 'font-size': 36}, panelsRoot, 'Observed');


const cfs = make('text', {transform: 'translate(1478,39) scale(0.96,1)', 'text-anchor': 'end', 'font-size': 36}, panelsRoot, 'CFS Forecast');



/* colour bar */
const cbRoot = document.getElementById('colorbar');
const cbLeft = 230, cbStep = 54.8, cbTop = 1005, cbHeight = 23;
colorBarFill.forEach((c, i) => {
  const el = make('rect', {x: cbLeft + i * cbStep, y: cbTop, width: cbStep, height: cbHeight, fill: c, stroke: '#000', 'stroke-width': 1.4}, cbRoot);
  
  
});
colorBarLabels.forEach((label, i) => {
  const el = make('text', {transform: 'translate(' + (cbLeft + (i + 1) * cbStep).toFixed(1) + ',1058) scale(0.95,1)', 'text-anchor': 'middle', 'font-size': 32}, cbRoot, label);
  
  
});
</script>
</body>
</html>
